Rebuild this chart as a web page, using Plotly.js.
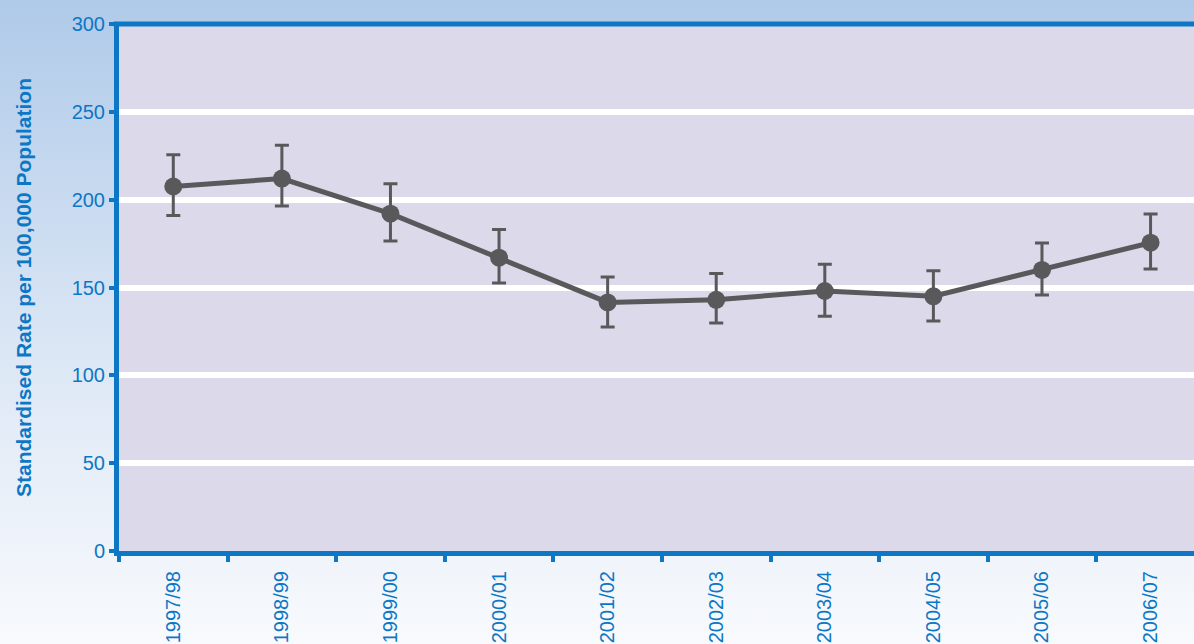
<!DOCTYPE html>
<html>
<head>
<meta charset="utf-8">
<script src="https://cdn.plot.ly/plotly-3.0.1.min.js"></script>
<style>
html,body{margin:0;padding:0;overflow:hidden;}
body{width:1194px;height:644px;background:linear-gradient(to bottom,#afcae9 0%,#dce7f5 55%,#f8fafd 100%);}
#chart{width:1194px;height:644px;}
</style>
</head>
<body>
<div id="chart"></div>
<script>
const years = ["1997/98","1998/99","1999/00","2000/01","2001/02","2002/03","2003/04","2004/05","2005/06","2006/07"];
const rate = [207.5, 212, 192, 167, 141.5, 143, 148, 145, 160, 175.5];
const upper = [225.5, 231, 209, 183, 156, 158, 163.3, 159.5, 175.3, 191.8];
const lower = [191, 196.4, 176.4, 152.5, 127.5, 129.8, 133.7, 131, 145.7, 160.5];

const blue = "#0c77c5";
const grey = "#59595b";
const fam = "Liberation Sans, Arial, sans-serif";

const trace = {
  x: years.map((_, i) => i),
  y: rate,
  type: "scatter",
  mode: "lines+markers",
  line: {color: grey, width: 5},
  marker: {color: grey, size: 18},
  error_y: {
    type: "data",
    symmetric: false,
    array: upper.map((u, i) => u - rate[i]),
    arrayminus: rate.map((r, i) => r - lower[i]),
    color: grey,
    thickness: 3,
    width: 7
  },
  hoverinfo: "skip"
};

const layout = {
  width: 1194,
  height: 644,
  margin: {l: 119, r: 0, t: 24, b: 93},
  paper_bgcolor: "rgba(0,0,0,0)",
  plot_bgcolor: "#dcd9ea",
  showlegend: false,
  font: {family: fam, color: blue},
  xaxis: {
    range: [-0.5, 9.4],
    tickmode: "array",
    tickvals: years.map((_, i) => i),
    ticktext: years,
    tickangle: -90,
    tickfont: {size: 20, color: blue, family: fam},
    ticklabelstandoff: 15,
    showgrid: false,
    zeroline: false,
    showline: false,
    ticks: "",
    fixedrange: true
  },
  xaxis2: {
    overlaying: "x",
    range: [-0.5, 9.4],
    tickmode: "array",
    tickvals: [-0.5,0.5,1.5,2.5,3.5,4.5,5.5,6.5,7.5,8.5],
    showticklabels: false,
    ticks: "outside",
    ticklen: 6,
    tickwidth: 4,
    tickcolor: blue,
    showline: true,
    linecolor: blue,
    linewidth: 5,
    showgrid: false,
    zeroline: false,
    anchor: "y",
    side: "bottom"
  },
  yaxis: {
    range: [0, 300],
    tickvals: [0, 50, 100, 150, 200, 250, 300],
    tickfont: {size: 20, color: blue, family: fam},
    ticks: "outside",
    ticklen: 5,
    tickwidth: 4,
    tickcolor: blue,
    showline: true,
    linecolor: blue,
    linewidth: 5,
    showgrid: true,
    gridcolor: "#ffffff",
    gridwidth: 6,
    zeroline: false,
    title: {text: "<b>Standardised Rate per 100,000 Population</b>", font: {size: 21, color: blue, family: fam}, standoff: 36}
  },
  shapes: [
    {type: "line", xref: "paper", yref: "paper", x0: -0.005, x1: 1, y0: 1, y1: 1, line: {color: blue, width: 5}, layer: "above"}
  ]
};

const axisTrace = {x: [0], y: [0], xaxis: "x2", yaxis: "y", mode: "markers", marker: {opacity: 0}, hoverinfo: "skip"};

Plotly.newPlot("chart", [axisTrace, trace], layout, {displayModeBar: false, staticPlot: true});
</script>
</body>
</html>
